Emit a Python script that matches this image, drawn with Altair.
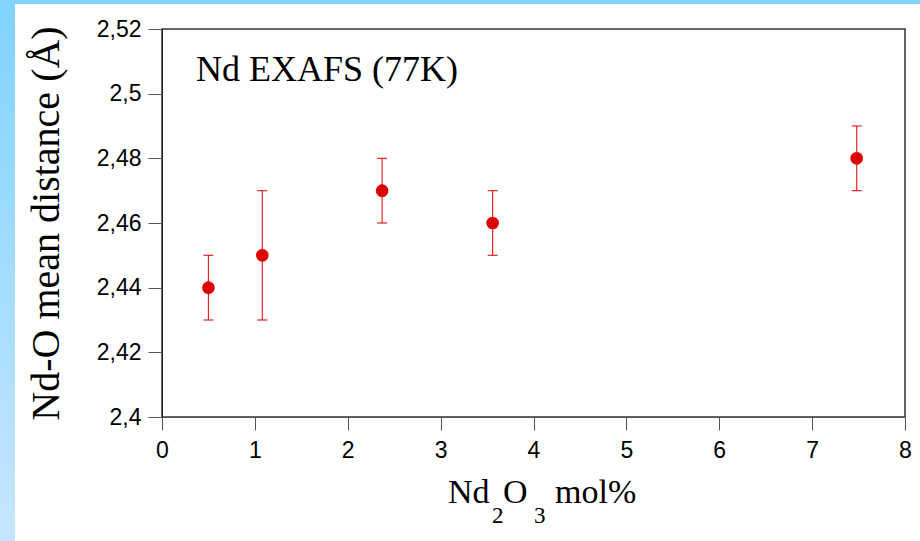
import altair as alt
import pandas as pd

# data
x_mol = [0.5, 1.08, 2.37, 3.56, 7.48]
dist = [2.44, 2.45, 2.47, 2.46, 2.48]
err_lo = [2.43, 2.43, 2.46, 2.45, 2.47]
err_hi = [2.45, 2.47, 2.48, 2.47, 2.49]
x_ticks = [0, 1, 2, 3, 4, 5, 6, 7, 8]
y_ticks = [2.4, 2.42, 2.44, 2.46, 2.48, 2.5, 2.52]

# x-axis title pieces: (text, is_subscript)
xtitle_parts = ["Nd", "2", "O", "3", "mol%"]
xtitle_sub = [False, True, False, True, False]
xtitle_dx = [286, 330, 341, 372, 393]

df = pd.DataFrame({"x": x_mol, "y": dist, "lo": err_lo, "hi": err_hi})

RED = "#dd0000"

xscale = alt.Scale(domain=[0, 8], nice=False, zero=False)
yscale = alt.Scale(domain=[2.4, 2.52], nice=False, zero=False)

xaxis = alt.Axis(
    values=x_ticks, title=None, grid=False, format="d", labelFlush=False,
    labelFont="Liberation Sans", labelFontSize=23, labelColor="black",
    labelPadding=9, tickSize=13, tickColor="#555", domainColor="#555",
)
yaxis = alt.Axis(
    values=y_ticks, title="Nd-O mean distance (Å)", grid=False, labelFlush=False,
    labelExpr="replace(format(datum.value, '.2~f'), '.', ',')",
    labelFont="Liberation Sans", labelFontSize=23, labelColor="black",
    labelPadding=7, tickSize=14, tickColor="#555", domainColor="#222",
    titleFont="Liberation Serif", titleFontSize=40, titleFontWeight="normal",
    titleColor="black", titlePadding=30,
)

base = alt.Chart(df)

bars = base.mark_errorbar(ticks=True, color=RED, thickness=1.2, size=10, opacity=0.85).encode(
    x=alt.X("x:Q", scale=xscale, axis=xaxis),
    y=alt.Y("lo:Q", scale=yscale, axis=yaxis),
    y2="hi:Q",
)

points = base.mark_circle(size=160, color=RED, opacity=1).encode(
    x=alt.X("x:Q", scale=xscale),
    y=alt.Y("y:Q", scale=yscale),
)

label = alt.Chart(pd.DataFrame({"t": ["Nd EXAFS (77K)"]})).mark_text(
    font="Liberation Serif", fontSize=36, align="left", baseline="alphabetic", color="black"
).encode(text="t:N", x=alt.value(34), y=alt.value(52))

xt_layers = []
for txt, sub, dx in zip(xtitle_parts, xtitle_sub, xtitle_dx):
    xt_layers.append(
        alt.Chart(pd.DataFrame({"t": [txt]})).mark_text(
            font="Liberation Serif", fontSize=23 if sub else 34, align="left",
            baseline="alphabetic", color="black", clip=False,
        ).encode(text="t:N", x=alt.value(dx), y=alt.value(494 if sub else 474))
    )

grad = alt.Gradient(
    gradient="linear",
    stops=[alt.GradientStop(color="#7fd3ff", offset=0), alt.GradientStop(color="#c6e6ff", offset=1)],
    x1=0, x2=0, y1=0, y2=1,
)
dummy = pd.DataFrame({"d": [0]})
left_strip = alt.Chart(dummy).mark_rect(fill=grad, clip=False).encode(
    x=alt.value(-162), x2=alt.value(-147), y=alt.value(-29), y2=alt.value(512)
)
top_strip = alt.Chart(dummy).mark_rect(color="#80d4ff", clip=False).encode(
    x=alt.value(-162), x2=alt.value(758), y=alt.value(-29), y2=alt.value(-25)
)

chart = alt.layer(left_strip, top_strip, bars, points, label, *xt_layers).properties(
    width=743, height=388,
    autosize=alt.AutoSizeParams(type="none"),
    padding={"left": 162, "top": 29, "right": 15, "bottom": 124},
    background="white",
).configure_view(stroke="#333", strokeWidth=1.5)

chart.save("out.html", embed_options={"renderer": "svg", "actions": False})
